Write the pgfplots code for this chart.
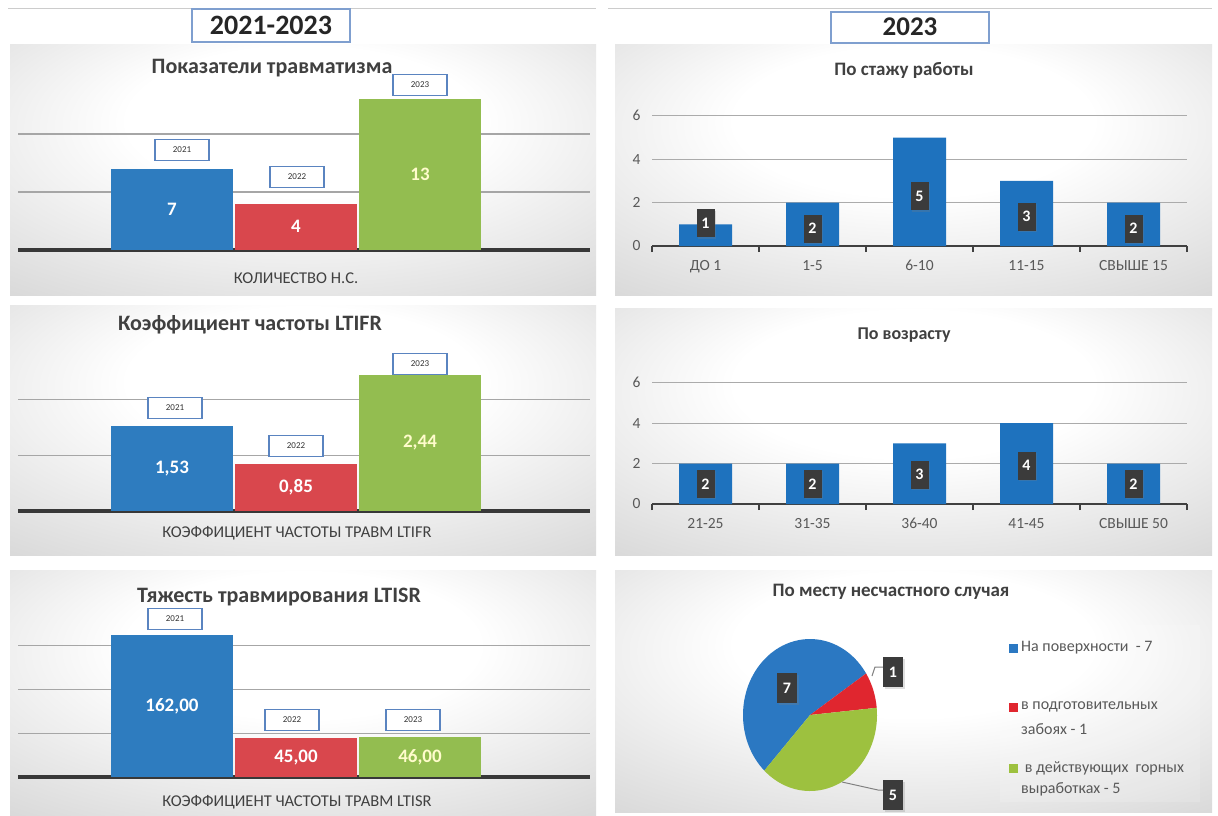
\documentclass[border=0pt]{standalone}
\usepackage{fontspec}
\setmainfont{Carlito}
\usepackage{pgfplots}
\pgfplotsset{compat=1.18}
\usetikzlibrary{shadows}
\newcommand\fs[1]{\fontsize{#1}{#1}\selectfont}
\definecolor{barblue}{HTML}{2E7CBF}
\definecolor{barred}{HTML}{D9474D}
\definecolor{bargreen}{HTML}{93BD50}
\definecolor{colblue}{HTML}{1E72BE}
\definecolor{pieblue}{HTML}{2B78C2}
\definecolor{piered}{HTML}{E0262F}
\definecolor{piegreen}{HTML}{9DC13F}
\definecolor{lblbox}{HTML}{3B3B3B}
\definecolor{txtgray}{HTML}{404040}
\definecolor{tickgray}{HTML}{595959}
\definecolor{yearborder}{HTML}{5A84C0}
\definecolor{headborder}{HTML}{7F9FCF}
\pgfdeclareradialshading{panelshade}{\pgfpoint{0bp}{12bp}}{color(0bp)=(white); color(15bp)=(white); color(50bp)=(black!21); color(75bp)=(black!30)}
\tikzset{
  yr/.style={draw=yearborder, line width=1.5pt, fill=white, minimum width=54pt, minimum height=21pt, inner sep=0pt, font=\fs{9}, text=black!80},
  dlab/.style={fill=lblbox, text=white, font=\bfseries\fs{16}, minimum width=18pt, minimum height=28pt, inner sep=0pt, drop shadow={opacity=0.25, shadow xshift=1.5pt, shadow yshift=-1.5pt}},
}
\pgfplotsset{
  leftbar/.style={
    scale only axis, width=572pt, xmin=-1.242, xmax=3.371, ymin=0,
    axis line style={draw=none}, xtick=\empty, yticklabels={},
    major tick length=0pt, ymajorgrids,
    grid style={draw=black!35, line width=1.2pt},
    extra y ticks={0}, extra y tick labels={},
    extra y tick style={major grid style={draw=black!78, line width=3.5pt}},
    clip=false, anchor=south west,
  },
  vallab/.style={draw=none, nodes near coords, point meta=explicit symbolic,
    nodes near coords style={anchor=center, font=\bfseries\fs{19}, text=#1}},
  rightbar/.style={
    scale only axis, width=535pt, xmin=-0.5, xmax=4.5, ymin=0, ymax=6,
    axis x line*=bottom, axis y line*=left,
    x axis line style={-, draw=black!75, line width=2pt},
    y axis line style={draw=none},
    xtick={0,1,2,3,4}, ytick={0,2,4,6},
    /pgf/number format/assume math mode=true,
    major tick length=0pt, tick align=outside,
    tick style={draw=black!75, line width=1.5pt},
    extra x ticks={-0.5,0.5,1.5,2.5,3.5,4.5}, extra x tick labels={},
    extra x tick style={major tick length=6pt},
    ymajorgrids, grid style={draw=black!33, line width=1.2pt},
    ticklabel style={font=\fs{15.5}, text=tickgray},
    xticklabel style={yshift=-10pt, text height=11pt, text depth=3pt},
    yticklabel style={xshift=-8pt},
    clip=false, anchor=south west,
  },
  dboxes/.style={draw=none, nodes near coords, point meta=explicit symbolic,
    nodes near coords style={anchor=center, dlab}},
}
% pie values
\def\pA{7}\def\pB{1}\def\pC{5}
\pgfmathsetmacro\pT{\pA+\pB+\pC}
\pgfmathsetmacro\aS{227}
\pgfmathsetmacro\aA{\aS-360*\pA/\pT}
\pgfmathsetmacro\aB{\aA-360*\pB/\pT}
\pgfmathsetmacro\aC{\aB-360*\pC/\pT}
\pgfmathsetmacro\cS{cos(\aS)}\pgfmathsetmacro\sS{sin(\aS)}
\pgfmathsetmacro\cA{cos(\aA)}\pgfmathsetmacro\sA{sin(\aA)}
\pgfmathsetmacro\cB{cos(\aB)}\pgfmathsetmacro\sB{sin(\aB)}
\begin{document}
\begin{tikzpicture}
\useasboundingbox (0,0) rectangle (1218pt,-815pt);
\fill[white] (0,0) rectangle (1218pt,-815pt);
\begin{scope}[x=1pt,y=-1pt]
  % top lines
  \draw[black!20, line width=1pt] (8,8) -- (596,8);
  \draw[black!20, line width=1pt] (608,8) -- (1212,8);
  % panels
  \shade[shading=panelshade] (10,44) rectangle (596,295);
  \shade[shading=panelshade] (10,305) rectangle (596,555);
  \shade[shading=panelshade] (10,570) rectangle (596,815);
  \shade[shading=panelshade] (615,44) rectangle (1212,295);
  \shade[shading=panelshade] (615,308) rectangle (1212,555);
  \shade[shading=panelshade] (615,570) rectangle (1212,812);
  % headers
  \node[draw=headborder, line width=2pt, fill=white, minimum width=158pt, minimum height=33pt, font=\bfseries\fs{28}, text=black!85] at (271,25) {2021-2023};
  \node[draw=headborder, line width=2pt, fill=white, minimum width=158pt, minimum height=31pt, font=\bfseries\fs{27}, text=black!85] at (910,27) {2023};
  % titles
  \node[font=\bfseries\fs{22}, text=txtgray] at (272,68) {Показатели травматизма};
  \node[font=\bfseries\fs{22}, text=txtgray] at (250,325) {Коэффициент частоты LTIFR};
  \node[font=\bfseries\fs{22}, text=txtgray] at (279,597) {Тяжесть травмирования LTISR};
  \node[font=\bfseries\fs{19}, text=txtgray] at (904,70) {По стажу работы};
  \node[font=\bfseries\fs{18}, text=txtgray] at (904,335) {По возрасту};
  \node[font=\bfseries\fs{19}, text=txtgray] at (891,592) {По месту несчастного случая};
  % axis labels
  \node[font=\fs{16.5}, text=txtgray] at (296,278) {КОЛИЧЕСТВО Н.С.};
  \node[font=\fs{16.5}, text=txtgray] at (297,533) {КОЭФФИЦИЕНТ ЧАСТОТЫ ТРАВМ LTIFR};
  \node[font=\fs{16.5}, text=txtgray] at (297,802) {КОЭФФИЦИЕНТ ЧАСТОТЫ ТРАВМ LTISR};
  % legend of pie
  \fill[white, opacity=0.15] (1000,625) rectangle (1200,802);
  \fill[pieblue] (1009,644) rectangle (1018,653);
  \fill[piered] (1009,703) rectangle (1018,712);
  \fill[piegreen] (1009,764) rectangle (1018,773);
  \begin{scope}[every node/.style={anchor=west, font=\fs{16}, text=tickgray, inner sep=0pt}]
    \node at (1021,648) {На поверхности\ \ - 7};
    \node at (1021,707) {в подготовительных};
    \node at (1021,729) {забоях - 1};
    \node at (1021,768) {\ в действующих\ \ горных};
    \node at (1021,789) {выработках - 5};
  \end{scope}
\end{scope}

% ---- P1
\begin{axis}[leftbar, at={(18pt,-250pt)}, height=174pt, ymax=15, ytick={5,10}]
\addplot[ybar, bar width=122pt, bar shift=0pt, fill=barblue, draw=none] coordinates {(0,7)};
\addplot[ybar, bar width=122pt, bar shift=0pt, fill=barred, draw=none] coordinates {(1,4)};
\addplot[ybar, bar width=122pt, bar shift=0pt, fill=bargreen, draw=none] coordinates {(2,13)};
\addplot[vallab=white] coordinates {(0,3.5)[7] (1,2)[4]};
\addplot[vallab=white!80!yellow] coordinates {(2,6.5)[13]};
\end{axis}
% ---- P2
\begin{axis}[leftbar, at={(18pt,-511pt)}, height=145.1pt, ymax=2.6, ytick={1,2}]
\addplot[ybar, bar width=122pt, bar shift=0pt, fill=barblue, draw=none] coordinates {(0,1.53)};
\addplot[ybar, bar width=122pt, bar shift=0pt, fill=barred, draw=none] coordinates {(1,0.85)};
\addplot[ybar, bar width=122pt, bar shift=0pt, fill=bargreen, draw=none] coordinates {(2,2.44)};
\addplot[vallab=white] coordinates {(0,0.765)[1,53] (1,0.425)[0,85]};
\addplot[vallab=white!80!yellow] coordinates {(2,1.22)[2,44]};
\end{axis}
% ---- P3
\begin{axis}[leftbar, at={(18pt,-777pt)}, height=157.9pt, ymax=180, ytick={50,100,150}]
\addplot[ybar, bar width=122pt, bar shift=0pt, fill=barblue, draw=none] coordinates {(0,162)};
\addplot[ybar, bar width=122pt, bar shift=0pt, fill=barred, draw=none] coordinates {(1,45)};
\addplot[ybar, bar width=122pt, bar shift=0pt, fill=bargreen, draw=none] coordinates {(2,46)};
\addplot[vallab=white] coordinates {(0,81)[162,00] (1,22.5)[45,00]};
\addplot[vallab=white!80!yellow] coordinates {(2,23)[46,00]};
\end{axis}
% ---- P4
\begin{axis}[rightbar, at={(652pt,-246pt)}, height=130.2pt,
  xticklabels={ДО 1, 1-5, 6-10, 11-15, СВЫШЕ 15}]
\addplot[ybar, bar width=53pt, bar shift=0pt, fill=colblue, draw=none] coordinates {(0,1) (1,2) (2,5) (3,3) (4,2)};
\addplot[dboxes] coordinates {(0,1.05)[1] (1,0.8)[2] (2,2.3)[5] (3,1.35)[3] (4,0.8)[2]};
\end{axis}
% ---- P5
\begin{axis}[rightbar, at={(652pt,-504pt)}, height=121.2pt,
  xticklabels={21-25, 31-35, 36-40, 41-45, СВЫШЕ 50}]
\addplot[ybar, bar width=53pt, bar shift=0pt, fill=colblue, draw=none] coordinates {(0,2) (1,2) (2,3) (3,4) (4,2)};
\addplot[dboxes] coordinates {(0,1.0)[2] (1,1.0)[2] (2,1.45)[3] (3,1.9)[4] (4,1.0)[2]};
\end{axis}
% ---- P6 pie
\begin{axis}[at={(743pt,-791pt)}, anchor=south west, scale only axis, width=134pt, height=152pt,
  xmin=-1, xmax=1, ymin=-1, ymax=1, hide axis, clip=false]
\fill[pieblue] (axis cs:0,0) -- (axis cs:\cS,\sS) arc[start angle=\aS, end angle=\aA, x radius=67pt, y radius=76pt] -- cycle;
\fill[piered] (axis cs:0,0) -- (axis cs:\cA,\sA) arc[start angle=\aA, end angle=\aB, x radius=67pt, y radius=76pt] -- cycle;
\fill[piegreen] (axis cs:0,0) -- (axis cs:\cB,\sB) arc[start angle=\aB, end angle=\aC, x radius=67pt, y radius=76pt] -- cycle;
\end{axis}
\begin{scope}[x=1pt,y=-1pt]
  \draw[black!50, line width=1pt] (872,676) -- (875,667) -- (883,667);
  \draw[black!50, line width=1pt] (842,782) -- (878,790) -- (883,790);
  \node[dlab, minimum height=30pt, minimum width=20pt] at (787,688) {7};
  \node[dlab, minimum height=30pt, minimum width=20pt] at (893,672) {1};
  \node[dlab, minimum height=30pt, minimum width=20pt] at (893,795) {5};
  % year boxes
  \node[yr] at (182,150) {2021};
  \node[yr] at (297,177) {2022};
  \node[yr] at (420,85) {2023};
  \node[yr] at (175,408) {2021};
  \node[yr] at (296,446) {2022};
  \node[yr] at (420,364) {2023};
  \node[yr] at (175,619) {2021};
  \node[yr] at (292,720) {2022};
  \node[yr] at (413,720) {2023};
\end{scope}
\end{tikzpicture}
\end{document}
